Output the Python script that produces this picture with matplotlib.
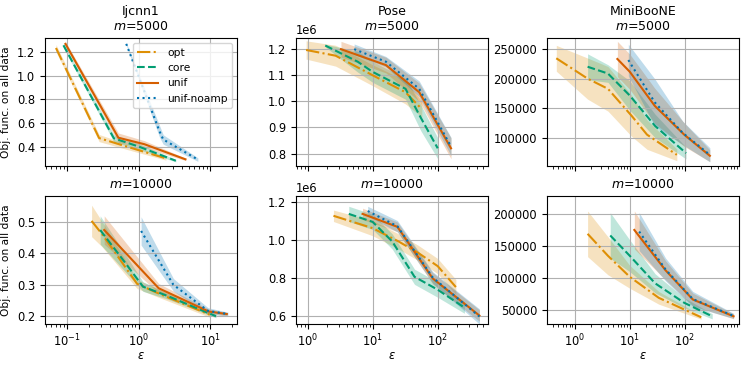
import matplotlib
matplotlib.use("Agg")
import matplotlib.pyplot as plt
from matplotlib.ticker import MultipleLocator
import numpy as np

plt.rcParams['font.family'] = ['DejaVu Sans']
plt.rcParams['font.size'] = 7.7
plt.rcParams['xtick.labelsize'] = 8.3
plt.rcParams['ytick.labelsize'] = 8.3

# ---------------- data ----------------
DATASETS = ["Ijcnn1", "Pose", "MiniBooNE"]
SIZES = [5000, 10000]
METHODS = ["opt", "core", "unif", "unif-noamp"]
COLORS = ["#DE8F05", "#029E73", "#D55E00", "#0173B2"]
STYLES = ["-.", "--", "-", ":"]

# Ijcnn1, m=5000
IJ5_OPT_EPS = [0.070, 0.28, 0.60, 2.4]
IJ5_OPT_VAL = [1.235, 0.472, 0.41, 0.30]
IJ5_OPT_ERR = [0.03, 0.03, 0.025, 0.015]
IJ5_CORE_EPS = [0.089, 0.45, 1.0, 3.3]
IJ5_CORE_VAL = [1.258, 0.47, 0.40, 0.28]
IJ5_CORE_ERR = [0.02, 0.03, 0.025, 0.01]
IJ5_UNIF_EPS = [0.095, 0.52, 1.2, 4.5]
IJ5_UNIF_VAL = [1.27, 0.475, 0.42, 0.292]
IJ5_UNIF_ERR = [0.02, 0.04, 0.03, 0.01]
IJ5_NOAMP_EPS = [0.67, 1.95, 2.2, 6.7]
IJ5_NOAMP_VAL = [1.27, 0.53, 0.46, 0.29]
IJ5_NOAMP_ERR = [0.01, 0.05, 0.04, 0.015]

# Ijcnn1, m=10000
IJ10_OPT_EPS = [0.22, 0.31, 0.95, 2.0, 9.8]
IJ10_OPT_VAL = [0.503, 0.46, 0.303, 0.27, 0.205]
IJ10_OPT_ERR = [0.05, 0.04, 0.015, 0.012, 0.008]
IJ10_CORE_EPS = [0.29, 0.6, 1.15, 2.5, 12.0]
IJ10_CORE_VAL = [0.474, 0.38, 0.294, 0.265, 0.20]
IJ10_CORE_ERR = [0.045, 0.03, 0.015, 0.01, 0.005]
IJ10_UNIF_EPS = [0.33, 1.9, 9.5, 17.0]
IJ10_UNIF_VAL = [0.474, 0.289, 0.215, 0.207]
IJ10_UNIF_ERR = [0.045, 0.015, 0.008, 0.005]
IJ10_NOAMP_EPS = [1.08, 3.05, 9.3, 17.6]
IJ10_NOAMP_VAL = [0.471, 0.30, 0.217, 0.207]
IJ10_NOAMP_ERR = [0.045, 0.02, 0.01, 0.006]

# Pose, m=5000
PO5_OPT_EPS = [0.95, 2.7, 10, 32, 57]
PO5_OPT_VAL = [1.197e6, 1.175e6, 1.10e6, 1.035e6, 0.97e6]
PO5_OPT_ERR = [0.035e6, 0.04e6, 0.04e6, 0.045e6, 0.03e6]
PO5_CORE_EPS = [1.87, 5.9, 10, 32, 55, 100]
PO5_CORE_VAL = [1.214e6, 1.152e6, 1.113e6, 1.048e6, 0.937e6, 0.82e6]
PO5_CORE_ERR = [0.005e6, 0.04e6, 0.04e6, 0.04e6, 0.05e6, 0.04e6]
PO5_UNIF_EPS = [3.26, 16, 52, 160]
PO5_UNIF_VAL = [1.20e6, 1.139e6, 1.035e6, 0.82e6]
PO5_UNIF_ERR = [0.03e6, 0.03e6, 0.035e6, 0.04e6]
PO5_NOAMP_EPS = [5.2, 16, 52, 160]
PO5_NOAMP_VAL = [1.20e6, 1.152e6, 1.048e6, 0.827e6]
PO5_NOAMP_ERR = [0.02e6, 0.02e6, 0.03e6, 0.035e6]

# Pose, m=10000
PO10_OPT_EPS = [2.5, 10, 25, 50, 100, 190]
PO10_OPT_VAL = [1.125e6, 1.06e6, 0.99e6, 0.93e6, 0.86e6, 0.75e6]
PO10_OPT_ERR = [0.03e6, 0.04e6, 0.04e6, 0.04e6, 0.04e6, 0.04e6]
PO10_CORE_EPS = [4.3, 10, 20, 44, 100, 257]
PO10_CORE_VAL = [1.135e6, 1.093e6, 0.99e6, 0.804e6, 0.736e6, 0.642e6]
PO10_CORE_ERR = [0.04e6, 0.04e6, 0.04e6, 0.04e6, 0.04e6, 0.03e6]
PO10_UNIF_EPS = [7, 24, 84, 437]
PO10_UNIF_VAL = [1.135e6, 1.067e6, 0.795e6, 0.60e6]
PO10_UNIF_ERR = [0.03e6, 0.025e6, 0.03e6, 0.03e6]
PO10_NOAMP_EPS = [8.4, 24, 84, 437]
PO10_NOAMP_VAL = [1.15e6, 1.07e6, 0.80e6, 0.595e6]
PO10_NOAMP_ERR = [0.025e6, 0.03e6, 0.03e6, 0.04e6]

# MiniBooNE, m=5000
MB5_OPT_EPS = [0.457, 1.7, 4.0, 10.8, 20.6, 72]
MB5_OPT_VAL = [235000, 200400, 183000, 137000, 105000, 70600]
MB5_OPT_ERR = [22000, 35000, 38000, 35000, 25000, 10000]
MB5_CORE_EPS = [1.7, 4.0, 10, 29, 106]
MB5_CORE_VAL = [220600, 209000, 171500, 119600, 73500]
MB5_CORE_ERR = [22000, 15000, 25000, 20000, 10000]
MB5_UNIF_EPS = [5.94, 10, 28.5, 98, 288]
MB5_UNIF_VAL = [233800, 212000, 154000, 105000, 69000]
MB5_UNIF_ERR = [30000, 30000, 30000, 20000, 10000]
MB5_NOAMP_EPS = [9.4, 28.5, 92, 288]
MB5_NOAMP_VAL = [232000, 160000, 108000, 70600]
MB5_NOAMP_ERR = [27000, 40000, 20000, 12000]

# MiniBooNE, m=10000
MB10_OPT_EPS = [1.7, 4.0, 10, 33.8, 200]
MB10_OPT_VAL = [169400, 134700, 101500, 68400, 37800]
MB10_OPT_ERR = [36000, 30000, 18000, 10000, 3000]
MB10_CORE_EPS = [4.4, 10, 29, 98, 318]
MB10_CORE_VAL = [166800, 134700, 91300, 60700, 39300]
MB10_CORE_ERR = [36000, 25000, 15000, 8000, 4000]
MB10_UNIF_EPS = [12.1, 45, 141, 780]
MB10_UNIF_VAL = [175500, 111700, 65800, 39300]
MB10_UNIF_ERR = [30000, 15000, 10000, 4000]
MB10_NOAMP_EPS = [14.8, 45, 141, 780]
MB10_NOAMP_VAL = [173000, 113000, 66500, 40000]
MB10_NOAMP_ERR = [30000, 18000, 12000, 4000]

XLIMS = [(0.049, 23.7), (0.66, 594), (0.306, 980)]
YLIMS = [[(0.235, 1.32), (0.175, 0.582)],
         [(0.752e6, 1.243e6), (0.555e6, 1.229e6)],
         [(51500, 269600), (27000, 229000)]]
YSTEPS = [[0.2, 0.1], [0.1e6, 0.2e6], [50000, 50000]]

panels = {
    (0, 0): [(IJ5_OPT_EPS, IJ5_OPT_VAL, IJ5_OPT_ERR), (IJ5_CORE_EPS, IJ5_CORE_VAL, IJ5_CORE_ERR),
             (IJ5_UNIF_EPS, IJ5_UNIF_VAL, IJ5_UNIF_ERR), (IJ5_NOAMP_EPS, IJ5_NOAMP_VAL, IJ5_NOAMP_ERR)],
    (1, 0): [(IJ10_OPT_EPS, IJ10_OPT_VAL, IJ10_OPT_ERR), (IJ10_CORE_EPS, IJ10_CORE_VAL, IJ10_CORE_ERR),
             (IJ10_UNIF_EPS, IJ10_UNIF_VAL, IJ10_UNIF_ERR), (IJ10_NOAMP_EPS, IJ10_NOAMP_VAL, IJ10_NOAMP_ERR)],
    (0, 1): [(PO5_OPT_EPS, PO5_OPT_VAL, PO5_OPT_ERR), (PO5_CORE_EPS, PO5_CORE_VAL, PO5_CORE_ERR),
             (PO5_UNIF_EPS, PO5_UNIF_VAL, PO5_UNIF_ERR), (PO5_NOAMP_EPS, PO5_NOAMP_VAL, PO5_NOAMP_ERR)],
    (1, 1): [(PO10_OPT_EPS, PO10_OPT_VAL, PO10_OPT_ERR), (PO10_CORE_EPS, PO10_CORE_VAL, PO10_CORE_ERR),
             (PO10_UNIF_EPS, PO10_UNIF_VAL, PO10_UNIF_ERR), (PO10_NOAMP_EPS, PO10_NOAMP_VAL, PO10_NOAMP_ERR)],
    (0, 2): [(MB5_OPT_EPS, MB5_OPT_VAL, MB5_OPT_ERR), (MB5_CORE_EPS, MB5_CORE_VAL, MB5_CORE_ERR),
             (MB5_UNIF_EPS, MB5_UNIF_VAL, MB5_UNIF_ERR), (MB5_NOAMP_EPS, MB5_NOAMP_VAL, MB5_NOAMP_ERR)],
    (1, 2): [(MB10_OPT_EPS, MB10_OPT_VAL, MB10_OPT_ERR), (MB10_CORE_EPS, MB10_CORE_VAL, MB10_CORE_ERR),
             (MB10_UNIF_EPS, MB10_UNIF_VAL, MB10_UNIF_ERR), (MB10_NOAMP_EPS, MB10_NOAMP_VAL, MB10_NOAMP_ERR)],
}

fig, axes = plt.subplots(2, 3, figsize=(7.48, 3.65), dpi=100, sharex='col')
fig.subplots_adjust(left=0.060, right=0.988, top=0.896, bottom=0.112, wspace=0.305, hspace=0.234)

for (r, c), series in panels.items():
    ax = axes[r, c]
    for k, (eps, val, err) in enumerate(series):
        eps = np.asarray(eps, float)
        val = np.asarray(val, float)
        err = np.asarray(err, float)
        ax.fill_between(eps, val - err, val + err, color=COLORS[k], alpha=0.25, linewidth=0)
        ax.plot(eps, val, color=COLORS[k], linestyle=STYLES[k], linewidth=1.5, label=METHODS[k])
    ax.set_xscale('log')
    ax.set_xlim(*XLIMS[c])
    ax.set_ylim(*YLIMS[c][r])
    ax.yaxis.set_major_locator(MultipleLocator(YSTEPS[c][r]))
    ax.yaxis.get_offset_text().set_fontsize(8.3)
    ax.tick_params(axis='x', pad=2.5)
    ax.grid(True, which='major')
    if r == 0:
        ax.set_title(f"{DATASETS[c]}\n$m$={SIZES[r]}", fontsize=9)
    else:
        ax.set_title(f"$m$={SIZES[r]}", fontsize=9)
        ax.set_xlabel(r"$\varepsilon$", fontsize=8.3, labelpad=0)
    if c == 0:
        ax.set_ylabel("Obj. func. on all data")

axes[0, 0].legend(loc='upper right', fontsize=7.7)

fig.savefig("out.png", dpi=100)
